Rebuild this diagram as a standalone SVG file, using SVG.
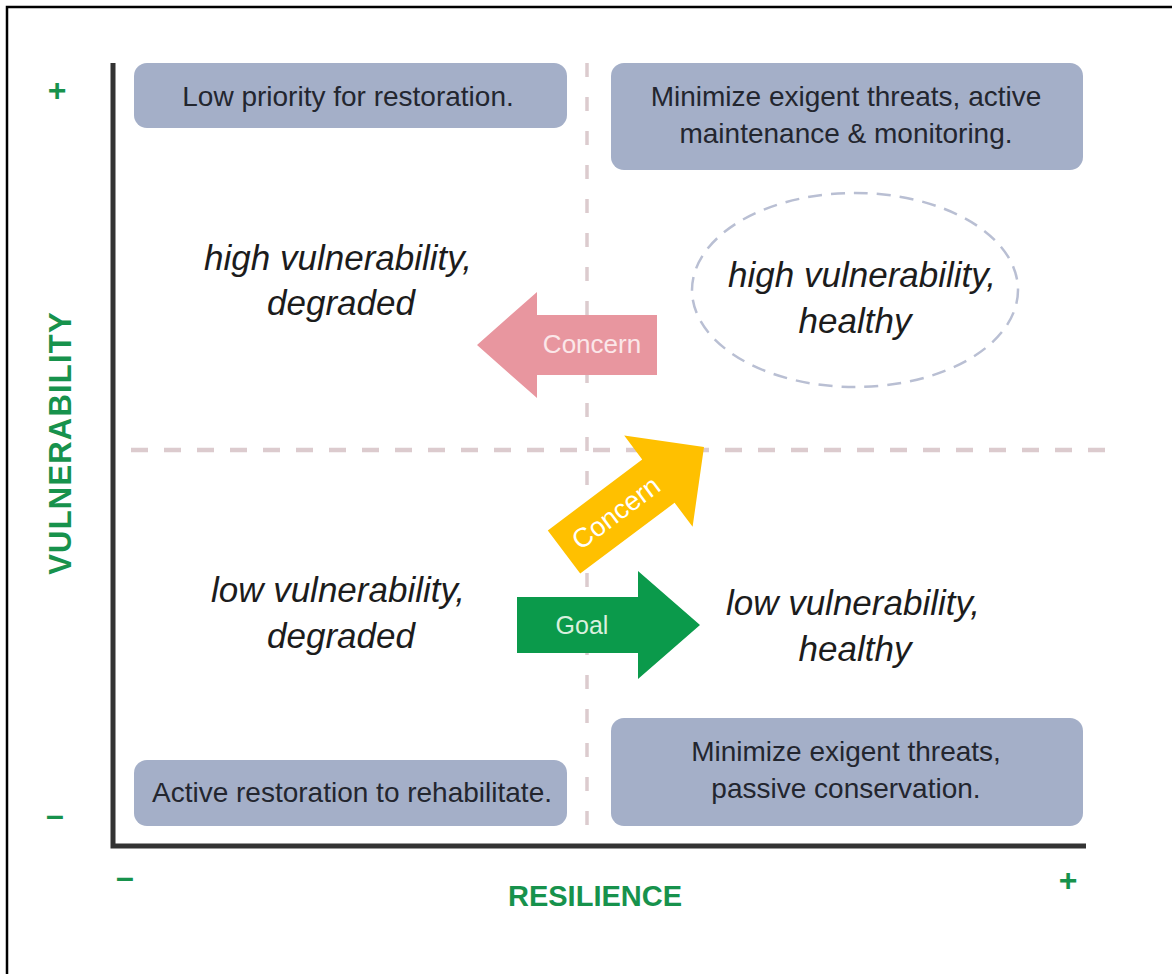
<svg xmlns="http://www.w3.org/2000/svg" width="1172" height="974" viewBox="0 0 1172 974">
  <style>
    .box { fill: #a4afc8; }
    .boxtxt { font-family: "Liberation Sans", Arial, sans-serif; font-size: 28px; fill: #23262f; text-anchor: middle; }
    .state { font-family: "Liberation Sans", Arial, sans-serif; font-size: 35px; font-style: italic; fill: #1c1c1c; text-anchor: middle; }
    .axislbl { font-family: "Liberation Sans", Arial, sans-serif; font-weight: bold; fill: #17924c; text-anchor: middle; }
    .sign { font-family: "Liberation Sans", Arial, sans-serif; font-size: 32px; font-weight: bold; fill: #17924c; text-anchor: middle; }
    .arrowtxt { font-family: "Liberation Sans", Arial, sans-serif; text-anchor: middle; }
    .grid { stroke: #dccbce; fill: none; }
  </style>

  <rect width="1172" height="974" fill="#ffffff"/>
  <!-- frame -->
  <rect x="7" y="7" width="1190" height="990" fill="none" stroke="#000000" stroke-width="2.5"/>

  <!-- quadrant divider lines -->
  <g id="dividers">
    <line class="grid" x1="587" y1="63" x2="587" y2="844" stroke-width="3.5" stroke-dasharray="14 20"/>
    <line class="grid" x1="131" y1="450" x2="1116" y2="450" stroke-width="4.5" stroke-dasharray="17 16"/>
  </g>

  <!-- axes -->
  <g id="axes">
    <path d="M113,63 V846 H1086" fill="none" stroke="#333333" stroke-width="5"/>
    <text class="axislbl" font-size="31" letter-spacing="1.2" transform="translate(71 443) rotate(-90)">VULNERABILITY</text>
    <text class="axislbl" font-size="29" x="595" y="906">RESILIENCE</text>
    <text class="sign" x="57" y="101">+</text>
    <text class="sign" x="55" y="826">–</text>
    <text class="sign" x="125" y="888">–</text>
    <text class="sign" x="1068" y="891">+</text>
  </g>

  <!-- management boxes -->
  <g id="box-low-priority">
    <rect class="box" x="134" y="63" width="433" height="65" rx="13"/>
    <text class="boxtxt" x="348" y="106">Low priority for restoration.</text>
  </g>
  <g id="box-active-maintenance">
    <rect class="box" x="611" y="63" width="472" height="107" rx="13"/>
    <text class="boxtxt" x="846" y="106">Minimize exigent threats, active</text>
    <text class="boxtxt" x="846" y="143">maintenance &amp; monitoring.</text>
  </g>
  <g id="box-active-restoration">
    <rect class="box" x="134" y="760" width="433" height="66" rx="13"/>
    <text class="boxtxt" x="352" y="802">Active restoration to rehabilitate.</text>
  </g>
  <g id="box-passive-conservation">
    <rect class="box" x="611" y="718" width="472" height="108" rx="13"/>
    <text class="boxtxt" x="846" y="761">Minimize exigent threats,</text>
    <text class="boxtxt" x="846" y="798">passive conservation.</text>
  </g>

  <!-- quadrant states -->
  <g id="state-high-degraded">
    <text class="state" x="338" y="270">high vulnerability,</text>
    <text class="state" x="341" y="315">degraded</text>
  </g>
  <g id="state-high-healthy">
    <ellipse cx="855" cy="290" rx="163" ry="97" fill="none" stroke="#b9bfd3" stroke-width="2.5" stroke-dasharray="14 9"/>
    <text class="state" x="862" y="287">high vulnerability,</text>
    <text class="state" x="855" y="333">healthy</text>
  </g>
  <g id="state-low-degraded">
    <text class="state" x="338" y="602">low vulnerability,</text>
    <text class="state" x="341" y="648">degraded</text>
  </g>
  <g id="state-low-healthy">
    <text class="state" x="853" y="615">low vulnerability,</text>
    <text class="state" x="855" y="661">healthy</text>
  </g>

  <!-- transition arrows -->
  <g id="connectors">
    <g id="arrow-concern-left">
      <path d="M477,345 L537,292 V315 H657 V375 H537 V398 Z" fill="#e8969f"/>
      <text class="arrowtxt" x="592" y="353" font-size="26" fill="#fbe7e9">Concern</text>
    </g>
    <g id="arrow-concern-diagonal" transform="translate(564 552) rotate(-36.87)">
      <path d="M0,-27 H118 V-57 L175,0 L118,57 V27 H0 Z" fill="#ffc000"/>
      <text class="arrowtxt" x="65" y="9" font-size="27" fill="#ffffff">Concern</text>
    </g>
    <g id="arrow-goal">
      <path d="M517,597 H638 V571 L700,625 L638,679 V653 H517 Z" fill="#0b9a4b"/>
      <text class="arrowtxt" x="582" y="634" font-size="25" fill="#d9f0de">Goal</text>
    </g>
  </g>
</svg>
